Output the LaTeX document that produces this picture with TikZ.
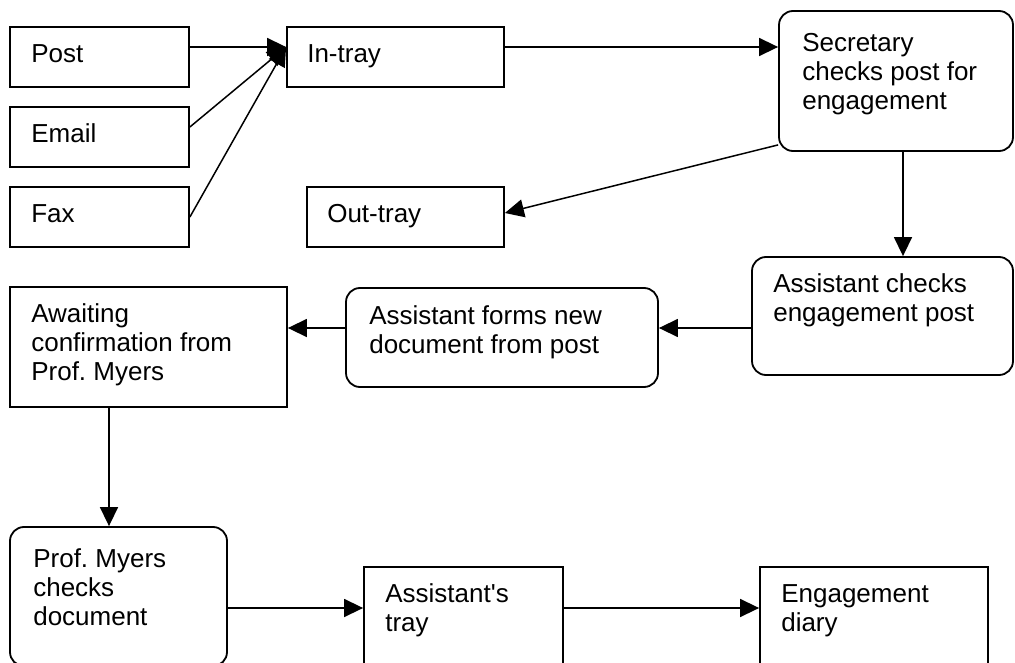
\documentclass[tikz,border=0pt]{standalone}
\usepackage{fontspec}
\setmainfont{Liberation Sans}
\usetikzlibrary{arrows.meta}

\begin{document}
\begin{tikzpicture}[x=1pt, y=-1pt,
    box/.style={draw, line width=1.8pt, inner sep=0pt},
    rbox/.style={box, rounded corners=14pt},
    txt/.style={anchor=base west, align=left, inner sep=0pt, font=\fontsize{26}{29}\selectfont\frenchspacing},
    arr/.style={line width=1.5pt, -{Triangle[length=19pt, width=18pt]}}]
    \useasboundingbox (0,0) rectangle (1015,663);
    \clip (0,0) rectangle (1015,663);

    \node[box, minimum width=179pt, minimum height=60pt] (post) at (99.5,57) {};
    \node[box, minimum width=179pt, minimum height=60pt] (email) at (99.5,137) {};
    \node[box, minimum width=179pt, minimum height=60pt] (fax) at (99.5,217) {};
    \node[box, minimum width=217pt, minimum height=60pt] (intray) at (395.5,57) {};
    \node[box, minimum width=197pt, minimum height=60pt] (outtray) at (405.5,217) {};
    \node[rbox, minimum width=234pt, minimum height=140pt] (sec) at (896,81) {};
    \node[rbox, minimum width=261pt, minimum height=118pt] (chk) at (882.5,316) {};
    \node[rbox, minimum width=312pt, minimum height=99pt] (forms) at (502,337.5) {};
    \node[box, minimum width=277pt, minimum height=120pt] (await) at (148.5,347) {};
    \node[rbox, minimum width=217pt, minimum height=139pt] (prof) at (118.5,596.5) {};
    \node[box, minimum width=199pt, minimum height=113pt] (tray) at (463.5,623.5) {};
    \node[box, minimum width=228pt, minimum height=113pt] (diary) at (874,623.5) {};

    % base anchor sits on the last line, so shift by 29pt per extra line
    \node[txt] (post-t) at ([xshift=22pt, yshift=-36pt]post.north west) {Post};
    \node[txt] (email-t) at ([xshift=22pt, yshift=-36pt]email.north west) {Email};
    \node[txt] (fax-t) at ([xshift=22pt, yshift=-36pt]fax.north west) {Fax};
    \node[txt] (intray-t) at ([xshift=21pt, yshift=-36pt]intray.north west) {In-tray};
    \node[txt] (outtray-t) at ([xshift=21pt, yshift=-36pt]outtray.north west) {Out-tray};
    \node[txt] (sec-t) at ([xshift=24pt, yshift=-99pt]sec.north west) {Secretary\\checks post for\\engagement};
    \node[txt] (chk-t) at ([xshift=22pt, yshift=-65pt]chk.north west) {Assistant checks\\engagement post};
    \node[txt] (forms-t) at ([xshift=24pt, yshift=-66pt]forms.north west) {Assistant forms new\\document from post};
    \node[txt] (await-t) at ([xshift=22pt, yshift=-94pt]await.north west) {Awaiting\\confirmation from\\Prof. Myers};
    \node[txt] (prof-t) at ([xshift=24pt, yshift=-99pt]prof.north west) {Prof. Myers\\checks\\document};
    \node[txt] (tray-t) at ([xshift=22pt, yshift=-65pt]tray.north west) {Assistant\textquotesingle s\\tray};
    \node[txt] (diary-t) at ([xshift=22pt, yshift=-65pt]diary.north west) {Engagement\\diary};

    % top row
    \draw[arr] ([yshift=10pt]post.east) -- ([yshift=10pt]intray.west);
    \draw[arr] ([yshift=10pt]email.east) -- ([yshift=10pt]intray.west);
    \draw[arr] (fax.east) -- ([yshift=10pt]intray.west);
    \draw[arr] ([yshift=10pt]intray.east) -- ([yshift=10pt]intray.east -| sec.west);
    \draw[arr] ([yshift=7pt]sec.south west) -- ([yshift=4pt]outtray.east);
    \draw[arr] ([xshift=7pt]sec.south) -- ([xshift=7pt]sec.south |- chk.north);

    % middle row
    \draw[arr] ([yshift=-12pt]chk.west) -- ([yshift=-12pt]chk.west -| forms.east);
    \draw[arr] ([yshift=9.5pt]forms.west) -- ([yshift=9.5pt]forms.west -| await.east);
    \draw[arr] ([xshift=-9.5pt]prof.north |- await.south) -- ([xshift=-9.5pt]prof.north);

    % bottom row
    \draw[arr] ([yshift=15.5pt]tray.east -| prof.east) -- ([yshift=15.5pt]tray.west);
    \draw[arr] ([yshift=15.5pt]tray.east) -- ([yshift=15.5pt]tray.east -| diary.west);
\end{tikzpicture}
\end{document}
